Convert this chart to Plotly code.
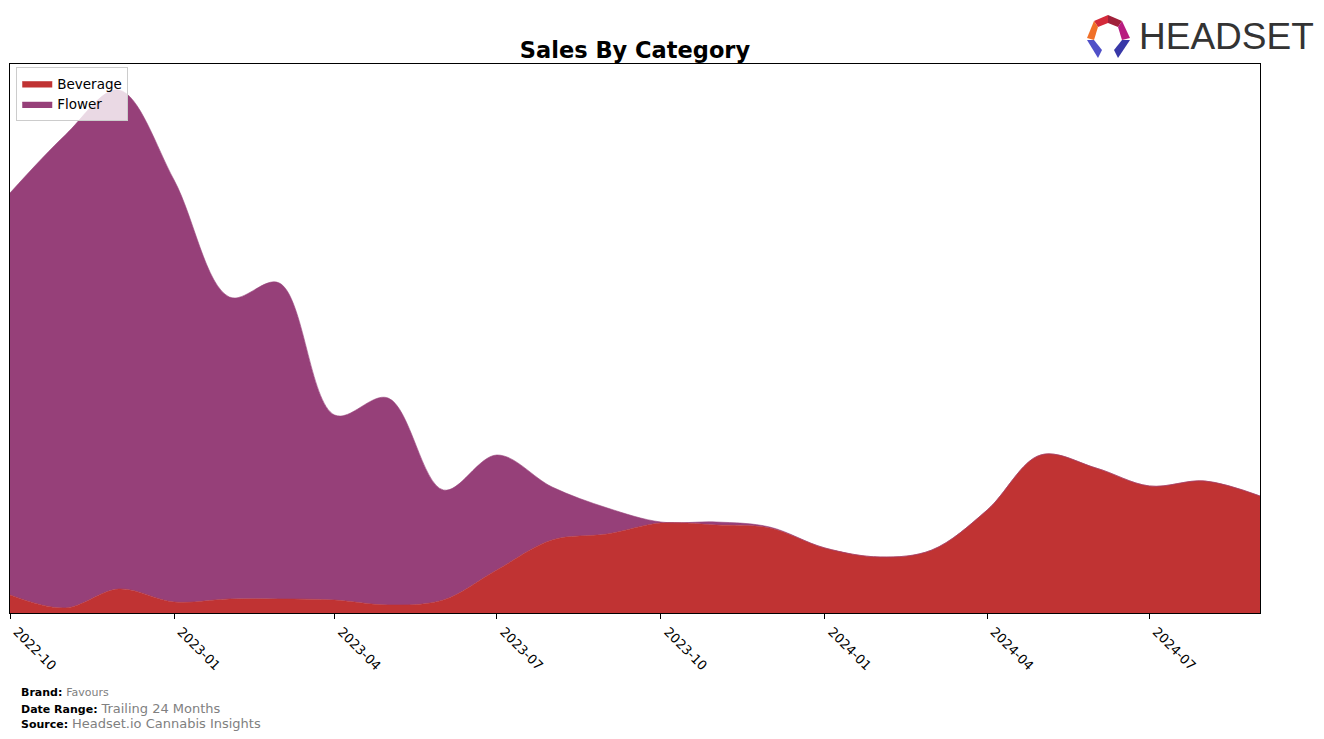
import plotly.graph_objects as go

months = ["2022-10-01", "2022-11-01", "2022-12-01", "2023-01-01", "2023-02-01", "2023-03-01",
          "2023-04-01", "2023-05-01", "2023-06-01", "2023-07-01", "2023-08-01", "2023-09-01",
          "2023-10-01", "2023-11-01", "2023-12-01", "2024-01-01", "2024-02-01", "2024-03-01",
          "2024-04-01", "2024-05-01", "2024-06-01", "2024-07-01", "2024-08-01", "2024-09-01"]

beverage = [18, 5, 24, 11, 14, 14, 13, 8, 13, 43, 73, 79,
            90, 88, 85, 65, 56, 63, 103, 158, 145, 127, 132, 117]
flower = [402, 473, 499, 422, 302, 316, 185, 207, 110, 115, 53, 26,
          1, 3, 1, 0, 0, 0, 0, 0, 0, 0, 0, 0]

tick_vals = ["2022-10-01", "2023-01-01", "2023-04-01", "2023-07-01",
             "2023-10-01", "2024-01-01", "2024-04-01", "2024-07-01"]
tick_text = ["2022-10", "2023-01", "2023-04", "2023-07",
             "2023-10", "2024-01", "2024-04", "2024-07"]

bev_color = "#c03333"
flo_color = "#964079"

fig = go.Figure()
fig.add_trace(go.Scatter(x=months, y=beverage, name="Beverage", stackgroup="one",
                         mode="lines", line=dict(color=bev_color, width=0.6, shape="spline", smoothing=1.0),
                         fillcolor=bev_color))
fig.add_trace(go.Scatter(x=months, y=flower, name="Flower", stackgroup="one",
                         mode="lines", line=dict(color=flo_color, width=0.6, shape="spline", smoothing=1.0),
                         fillcolor=flo_color))

fig.update_layout(
    width=1324, height=739,
    margin=dict(l=10, r=64, t=64, b=126),
    paper_bgcolor="white", plot_bgcolor="white",
    font=dict(family="DejaVu Sans", color="black"),
    title=dict(text="<b>Sales By Category</b>", x=(10 + 625) / 1324, xanchor="center",
               y=1 - 50 / 739, yanchor="middle", font=dict(size=22.5, color="black")),
    showlegend=True,
    legend=dict(x=0.005, y=0.994, xanchor="left", yanchor="top", bgcolor="rgba(255,255,255,0.8)",
                bordercolor="#cccccc", borderwidth=1, font=dict(size=13.5), traceorder="normal",
                itemwidth=30),
    xaxis=dict(range=["2022-10-01", "2024-09-01"], tickvals=tick_vals, ticktext=tick_text,
               tickangle=45, ticks="outside", ticklen=5, tickcolor="black", showgrid=False,
               showline=True, linecolor="black", linewidth=1, mirror=True, automargin=False,
               tickfont=dict(size=13), zeroline=False, ticklabelshift=7),
    yaxis=dict(range=[0, 549], showticklabels=False, ticks="", showgrid=False, automargin=False,
               showline=True, linecolor="black", linewidth=1, mirror=True, zeroline=False),
)

# footer text
footer = [("Brand:", "Favours", 692), ("Date Range:", "Trailing 24 Months", 708),
          ("Source:", "Headset.io Cannabis Insights", 723)]
for label, value, py_ in footer:
    size = 11 if label == "Brand:" else 13
    fig.add_annotation(xref="paper", yref="paper", x=(19 - 10) / 1250, y=(613 - py_) / 549,
                       xanchor="left", yanchor="middle", showarrow=False,
                       text=f"<b><span style='font-size:11px'>{label}</span></b> "
                            f"<span style='color:#808080;font-size:{size}px'>{value}</span>")


# logo
def px(x):
    return (x - 10) / 1250


def py(y):
    return (613 - y) / 549


fig.add_annotation(xref="paper", yref="paper", x=px(1137), y=py(37), xanchor="left", yanchor="middle",
                   showarrow=False, text="HEADSET",
                   font=dict(family="Liberation Sans, sans-serif", size=37, color="#333333"))
segments = [
    ([(1108, 15), (1122, 21), (1118, 27), (1108, 23)], "#a0203a"),
    ([(1108, 15), (1094, 21), (1098, 27), (1108, 23)], "#d42a3a"),
    ([(1094, 21), (1087, 38), (1094, 40), (1098, 27)], "#f07028"),
    ([(1122, 21), (1130, 38), (1122, 40), (1118, 27)], "#b81c80"),
    ([(1087, 40), (1094, 40), (1102, 50), (1098, 58)], "#5050c8"),
    ([(1130, 40), (1122, 40), (1114, 50), (1118, 58)], "#3838a8"),
]
for pts, col in segments:
    path = "M " + " L ".join(f"{px(x)},{py(y)}" for x, y in pts) + " Z"
    fig.add_shape(type="path", xref="paper", yref="paper", path=path,
                  fillcolor=col, line=dict(width=0))

fig.write_html("out.html", config={"displayModeBar": False},
               post_script="document.body.style.margin='0';")
